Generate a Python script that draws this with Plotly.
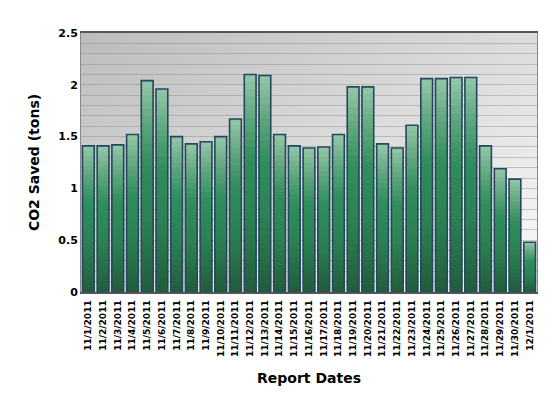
import base64
import plotly.graph_objects as go

# report dates and CO2 saved (tons)
dates = ['11/1/2011', '11/2/2011', '11/3/2011', '11/4/2011', '11/5/2011', '11/6/2011',
         '11/7/2011', '11/8/2011', '11/9/2011', '11/10/2011', '11/11/2011', '11/12/2011',
         '11/13/2011', '11/14/2011', '11/15/2011', '11/16/2011', '11/17/2011', '11/18/2011',
         '11/19/2011', '11/20/2011', '11/21/2011', '11/22/2011', '11/23/2011', '11/24/2011',
         '11/25/2011', '11/26/2011', '11/27/2011', '11/28/2011', '11/29/2011', '11/30/2011',
         '12/1/2011']
co2_saved = [1.41, 1.41, 1.42, 1.52, 2.04, 1.96, 1.50, 1.43, 1.45, 1.50, 1.67, 2.10,
             2.09, 1.52, 1.41, 1.39, 1.40, 1.52, 1.98, 1.98, 1.43, 1.39, 1.61, 2.06,
             2.06, 2.07, 2.07, 1.41, 1.19, 1.09, 0.48]

FONT = 'DejaVu Sans'

# colour stops (fraction of bar height from the bottom, rgb) for the bar gradient
stops = [(0.0, (33, 92, 60)), (0.35, (44, 130, 84)), (0.6, (47, 141, 91)),
         (0.8, (95, 166, 126)), (1.0, (150, 199, 170))]
n = 30


def shade(t):
    for (t0, c0), (t1, c1) in zip(stops, stops[1:]):
        if t <= t1:
            f = (t - t0) / (t1 - t0)
            return 'rgb(%d,%d,%d)' % tuple(round(a + (b - a) * f) for a, b in zip(c0, c1))
    return 'rgb(%d,%d,%d)' % stops[-1][1]


fig = go.Figure()
# tallest (lightest) layer first, shorter darker layers painted over it
for k in reversed(range(n)):
    fig.add_trace(go.Bar(
        x=dates,
        y=[v * (k + 1) / n for v in co2_saved],
        marker=dict(color=shade((k + 0.5) / n), line=dict(width=0)),
        hoverinfo='skip',
        showlegend=False,
    ))

# outline bar carrying the real values
fig.add_trace(go.Bar(
    x=dates,
    y=co2_saved,
    marker=dict(color='rgba(0,0,0,0)', line=dict(color='#24485f', width=1.6)),
    showlegend=False,
    name='CO2 Saved',
))

svg = ('<svg xmlns="http://www.w3.org/2000/svg" width="100" height="100" preserveAspectRatio="none">'
       '<defs><linearGradient id="g" x1="0" y1="0" x2="1" y2="1">'
       '<stop offset="0" stop-color="#bcbcbc"/><stop offset="1" stop-color="#fbfbfb"/>'
       '</linearGradient></defs><rect width="100" height="100" fill="url(#g)"/></svg>')
bg = 'data:image/svg+xml;base64,' + base64.b64encode(svg.encode()).decode()

# page body adds 8px, so margins are offset to land the plot where the original sits
fig.update_layout(
    width=556, height=405,
    barmode='overlay',
    bargap=0.2,
    margin=dict(l=73, r=27, t=25, b=121),
    paper_bgcolor='white',
    plot_bgcolor='rgba(0,0,0,0)',
    font=dict(family=FONT, color='black'),
    images=[dict(source=bg, xref='x domain', yref='y domain', x=0, y=1,
                 sizex=1, sizey=1, sizing='stretch', layer='below',
                 xanchor='left', yanchor='top')],
    xaxis=dict(
        tickangle=-90,
        tickfont=dict(size=9, family=FONT, weight='bold'),
        ticklabelstandoff=3,
        title=dict(text='Report Dates', font=dict(size=14, family=FONT, weight='bold'), standoff=17),
        showline=True, linecolor='#555555', linewidth=1.5, mirror=True,
        ticks='', showgrid=False,
    ),
    yaxis=dict(
        range=[0, 2.5], dtick=0.5,
        tickfont=dict(size=11, family=FONT, weight='bold'),
        title=dict(text='CO2 Saved (tons)', font=dict(size=14, family=FONT, weight='bold'), standoff=15),
        showline=True, linecolor='#888888', linewidth=1, mirror=True,
        gridcolor='rgba(140,140,140,0.45)', gridwidth=1,
        minor=dict(dtick=0.1, showgrid=True, gridcolor='rgba(140,140,140,0.45)', gridwidth=1),
        zeroline=False, ticks='',
    ),
)

fig.write_html('out.html')
